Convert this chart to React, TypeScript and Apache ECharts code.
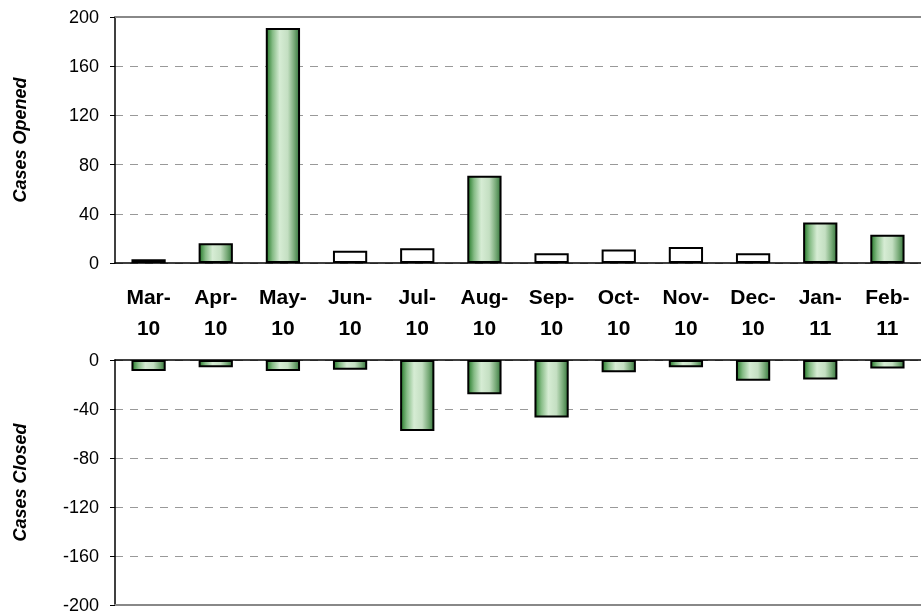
import React, { useEffect, useRef } from "react";
import * as echarts from "echarts";

const months = ["Mar-10", "Apr-10", "May-10", "Jun-10", "Jul-10", "Aug-10", "Sep-10", "Oct-10", "Nov-10", "Dec-10", "Jan-11", "Feb-11"];
const opened = [3, 16, 191, 10, 12, 71, 8, 11, 13, 8, 33, 23];
const closed = [-9, -6, -9, -8, -58, -28, -47, -10, -6, -17, -16, -7];
const highlightedOpened = ["Apr-10", "May-10", "Aug-10", "Jan-11", "Feb-11"];

const FONT = "Arial, 'Liberation Sans', sans-serif";

const green = new echarts.graphic.LinearGradient(0, 0, 1, 0, [
  { offset: 0, color: "#2a7d2e" },
  { offset: 0.18, color: "#86bc86" },
  { offset: 0.4, color: "#d6ecd4" },
  { offset: 0.65, color: "#c4dfc2" },
  { offset: 0.85, color: "#78aa78" },
  { offset: 1, color: "#3a7a40" },
]);

export default function App() {
  const ref = useRef<HTMLDivElement>(null);
  useEffect(() => {
    if (!ref.current) return;
    const chart = echarts.init(ref.current, null, { renderer: "svg" });
    const valueAxisCommon = {
      type: "value",
      interval: 40,
      axisLine: { show: true, lineStyle: { color: "#000", width: 1.5 } },
      axisTick: { show: true, length: 5, lineStyle: { color: "#000" } },
      axisLabel: { color: "#000", fontSize: 18, fontFamily: FONT, margin: 16 },
      splitLine: { show: true, lineStyle: { color: "#999", type: [8, 7], width: 1 } },
      nameLocation: "middle",
      nameGap: 86,
      nameTextStyle: { color: "#000", fontSize: 18, fontWeight: "bold", fontStyle: "italic", fontFamily: FONT },
    };
    chart.setOption({
      animation: false,
      grid: [
        { left: 115, top: 17, width: 806, height: 246 },
        { left: 115, top: 360, width: 806, height: 245 },
      ],
      xAxis: [
        {
          gridIndex: 0,
          type: "category",
          data: months,
          position: "bottom",
          axisLine: { lineStyle: { color: "#000", width: 1.5 } },
          axisTick: { length: 5, lineStyle: { color: "#000" } },
          axisLabel: {
            color: "#000",
            fontSize: 21,
            fontWeight: "bold",
            fontFamily: FONT,
            lineHeight: 31,
            margin: 18,
            interval: 0,
            formatter: (v: string) => v.replace("-", "-\n"),
          },
        },
        {
          gridIndex: 0,
          type: "category",
          data: months,
          position: "top",
          axisLine: { onZero: false, lineStyle: { color: "#888", width: 2 } },
          axisTick: { show: false },
          axisLabel: { show: false },
        },
        {
          gridIndex: 1,
          type: "category",
          data: months,
          position: "top",
          axisLine: { lineStyle: { color: "#000", width: 1.5 } },
          axisTick: { length: 5, lineStyle: { color: "#000" } },
          axisLabel: { show: false },
        },
        {
          gridIndex: 1,
          type: "category",
          data: months,
          position: "bottom",
          axisLine: { onZero: false, lineStyle: { color: "#888", width: 2 } },
          axisTick: { show: false },
          axisLabel: { show: false },
        },
      ],
      yAxis: [
        { ...valueAxisCommon, gridIndex: 0, min: 0, max: 200, name: "Cases Opened" },
        { ...valueAxisCommon, gridIndex: 1, min: -200, max: 0, name: "Cases Closed" },
      ],
      series: [
        {
          type: "bar",
          xAxisIndex: 0,
          yAxisIndex: 0,
          barWidth: "51%",
          data: opened.map((v, i) => ({
            value: v,
            itemStyle: {
              color: highlightedOpened.includes(months[i]) ? green : "#ffffff",
              borderColor: "#000",
              borderWidth: 2,
            },
          })),
        },
        {
          type: "bar",
          xAxisIndex: 2,
          yAxisIndex: 1,
          barWidth: "51%",
          data: closed,
          itemStyle: { color: green, borderColor: "#000", borderWidth: 2 },
        },
      ],
    });
    return () => chart.dispose();
  }, []);
  return <div ref={ref} style={{ position: "fixed", left: 0, top: 0, width: 921, height: 616 }} />;
}
